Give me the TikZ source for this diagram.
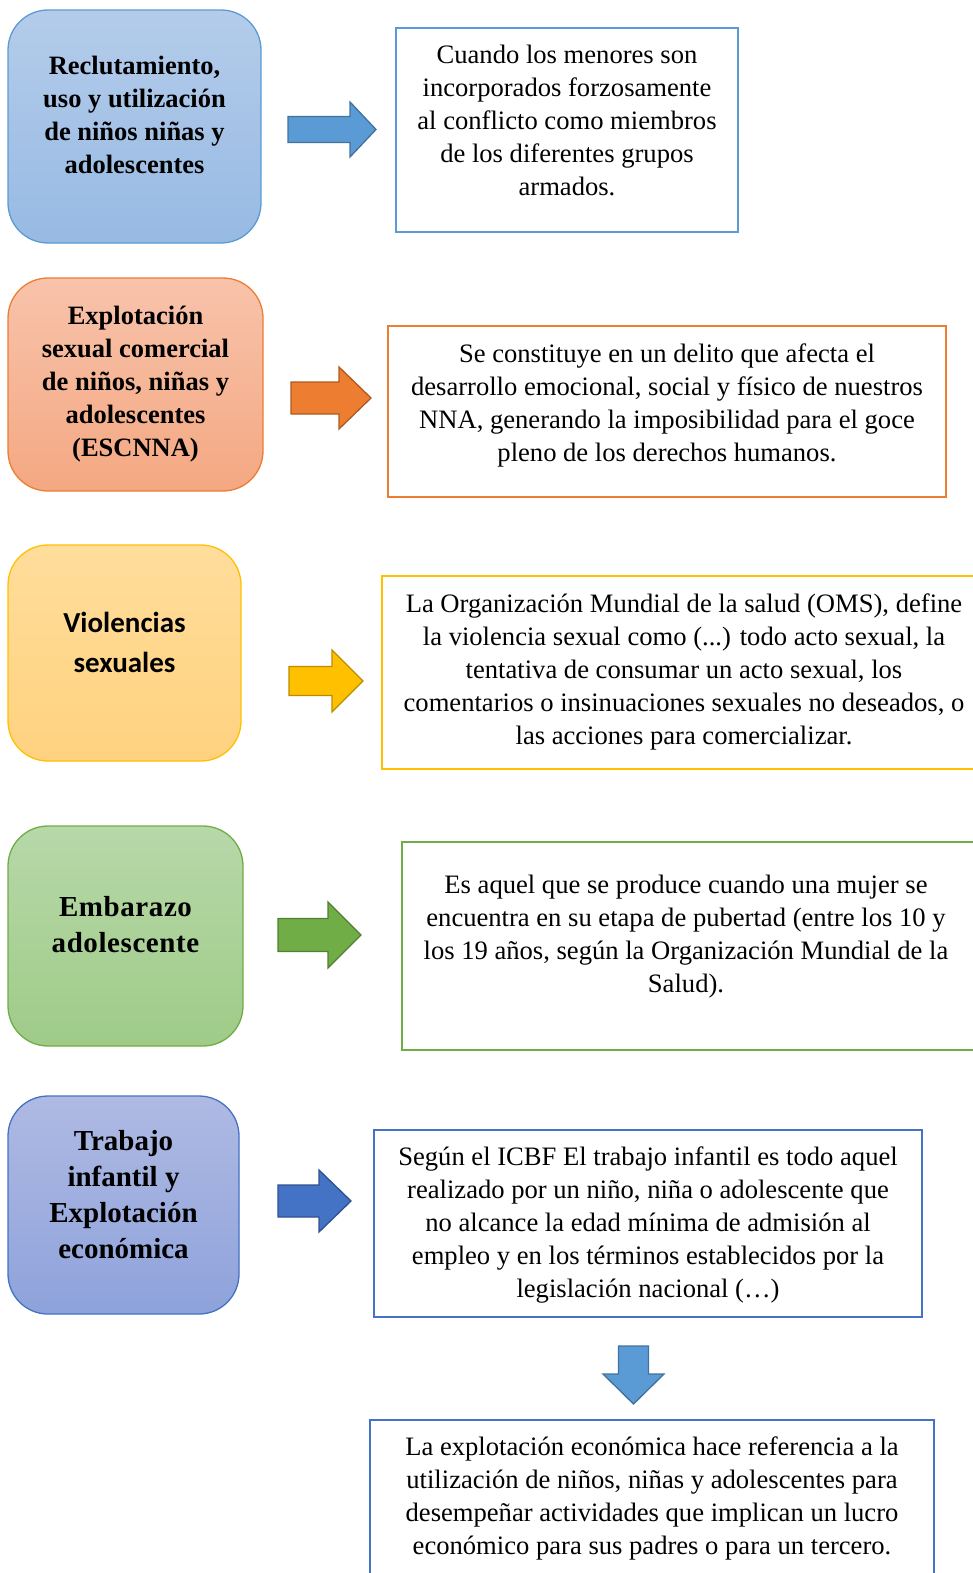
\documentclass[tikz,border=0pt]{standalone}
\usepackage{fontspec}
\setmainfont{Liberation Serif}
\newfontfamily\calfont{Carlito}
\definecolor{bluB}{HTML}{5B9BD5}
\definecolor{bluD}{HTML}{41719C}
\definecolor{bluT}{HTML}{B4CCEA}
\definecolor{bluL}{HTML}{97BAE3}
\definecolor{orgB}{HTML}{ED7D31}
\definecolor{orgD}{HTML}{AE5A21}
\definecolor{orgT}{HTML}{F8C3AB}
\definecolor{orgL}{HTML}{F4A882}
\definecolor{yelB}{HTML}{FFC000}
\definecolor{yelD}{HTML}{BC8C00}
\definecolor{yelT}{HTML}{FFDD9B}
\definecolor{yelL}{HTML}{FFD27F}
\definecolor{grnB}{HTML}{70AD47}
\definecolor{grnD}{HTML}{507E32}
\definecolor{grnT}{HTML}{B7D8A9}
\definecolor{grnL}{HTML}{9FCB88}
\definecolor{indB}{HTML}{4472C4}
\definecolor{indD}{HTML}{2F528F}
\definecolor{indT}{HTML}{AFBAE3}
\definecolor{indL}{HTML}{8EA2DB}
\newcommand\harrow[7]{\draw[#1] (#2,#5-#6) -- (#3,#5-#6) -- (#3,#5-#7) -- (#4,#5) -- (#3,#5+#7) -- (#3,#5+#6) -- (#2,#5+#6) -- cycle;}
\begin{document}
\begin{tikzpicture}[x=1pt,y=-1pt,
  lbox/.style={rectangle, rounded corners=40pt, line width=1.3pt, inner sep=0pt},
  rbox/.style={rectangle, draw, line width=2pt, fill=white, inner sep=0pt},
  lt/.style={font=\bfseries\fontsize{26.5}{33}\selectfont, align=center, inner sep=0pt},
  ltb/.style={font=\bfseries\fontsize{29}{36}\selectfont, align=center, inner sep=0pt},
  rt/.style={font=\fontsize{26.6}{33}\selectfont, align=center, inner sep=0pt},
  blkarrow/.style={line width=1.3pt, line join=miter}
]
\useasboundingbox (0,0) rectangle (973,1573);
% Row 1
\node[lbox, draw=bluB, top color=bluT, bottom color=bluL, minimum width=253pt, minimum height=233pt] (b1) at (134.5,126.5) {};
\node[lt] (t1) at (134.5,115) {Reclutamiento,\\uso y utilización\\de niños niñas y\\adolescentes};
\node[rbox, draw=bluB, minimum width=342pt, minimum height=204pt] (r1) at (567,130) {};
\node[rt] (s1) at (567,120) {Cuando los menores son\\incorporados forzosamente\\al conflicto como miembros\\de los diferentes grupos\\armados.};
\harrow{blkarrow, fill=bluB, draw=bluD}{288}{350}{376}{129.5}{13}{27.5}
% Row 2
\node[lbox, draw=orgB, top color=orgT, bottom color=orgL, minimum width=255pt, minimum height=213pt] (b2) at (135.5,384.5) {};
\node[lt] (t2) at (135.5,384) {Explotación\\sexual comercial\\de niños, niñas y\\adolescentes\\(ESCNNA)};
\node[rbox, draw=orgB, minimum width=558pt, minimum height=171pt] (r2) at (667,411.5) {};
\node[rt] (s2) at (667,405) {Se constituye en un delito que afecta el\\desarrollo emocional, social y físico de nuestros\\NNA, generando la imposibilidad para el goce\\pleno de los derechos humanos.};
\harrow{blkarrow, fill=orgB, draw=orgD}{291}{339}{371}{398}{16}{31}
% Row 3
\node[lbox, draw=yelB, top color=yelT, bottom color=yelL, minimum width=233pt, minimum height=216pt] (b3) at (124.5,653) {};
\node[font=\calfont\bfseries\fontsize{29}{40}\selectfont, align=center, inner sep=0pt] (t3) at (124.5,642) {Violencias\\sexuales};
\node[rbox, draw=yelB, minimum width=598pt, minimum height=193pt] (r3) at (681,672.5) {};
\node[rt] (s3) at (684,672) {La Organización Mundial de la salud (OMS), define\\la violencia sexual como (...) todo acto sexual, la\\tentativa de consumar un acto sexual, los\\comentarios o insinuaciones sexuales no deseados, o\\las acciones para comercializar.};
\harrow{blkarrow, fill=yelB, draw=yelD}{289}{332}{363}{681}{14.5}{31}
% Row 4
\node[lbox, draw=grnB, top color=grnT, bottom color=grnL, minimum width=235pt, minimum height=220pt] (b4) at (125.5,936) {};
\node[font=\bfseries\fontsize{29}{36}\selectfont\addfontfeatures{LetterSpace=2}, align=center, inner sep=0pt] (t4) at (125.5,925) {Embarazo\\adolescente};
\node[rbox, draw=grnB, minimum width=578pt, minimum height=208pt] (r4) at (691,946) {};
\node[rt] (s4) at (686,937) {Es aquel que se produce cuando una mujer se\\encuentra en su etapa de pubertad (entre los 10 y\\los 19 años, según la Organización Mundial de la\\Salud).};
\harrow{blkarrow, fill=grnB, draw=grnD}{278}{328}{361}{935}{16.5}{33}
% Row 5
\node[lbox, draw=indB, top color=indT, bottom color=indL, minimum width=231pt, minimum height=218pt] (b5) at (123.5,1205) {};
\node[ltb] (t5) at (123.5,1195) {Trabajo\\infantil y\\Explotación\\económica};
\node[rbox, draw=indB, minimum width=548pt, minimum height=187pt] (r5) at (648,1223.5) {};
\node[rt] (s5) at (648,1225) {Según el ICBF El trabajo infantil es todo aquel\\realizado por un niño, niña o adolescente que\\no alcance la edad mínima de admisión al\\empleo y en los términos establecidos por la\\legislación nacional (…)};
\harrow{blkarrow, fill=indB, draw=indD}{278}{319}{351}{1201}{16}{31}
% Down arrow and last box
\draw[blkarrow, fill=bluB, draw=bluD] (618.5,1346) -- (648.5,1346) -- (648.5,1374) -- (664,1374) -- (633.5,1404) -- (603,1374) -- (618.5,1374) -- cycle;
\node[rbox, draw=indB, minimum width=564pt, minimum height=170pt] (r6) at (652,1505) {};
\node[rt] (s6) at (652,1498) {La explotación económica hace referencia a la\\utilización de niños, niñas y adolescentes para\\desempeñar actividades que implican un lucro\\económico para sus padres o para un tercero.};
\end{tikzpicture}
\end{document}
